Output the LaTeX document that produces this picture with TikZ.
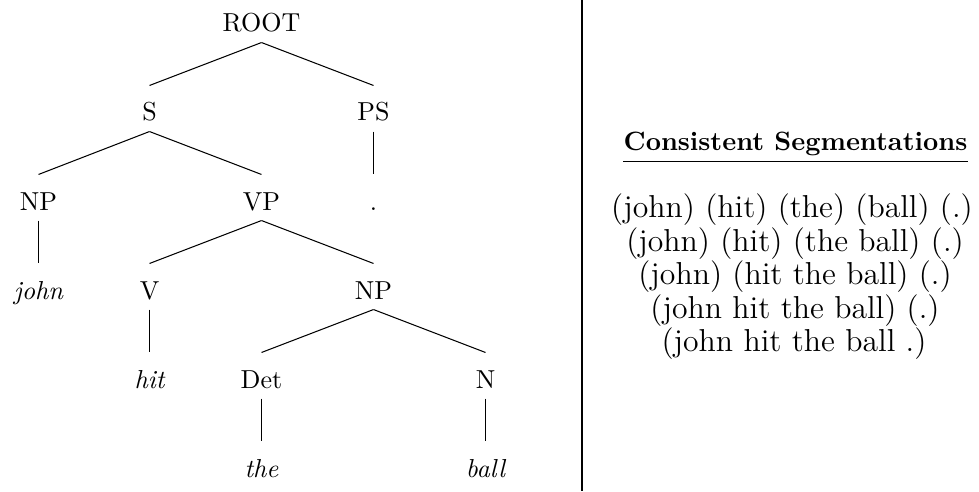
\documentclass[tikz,border=0pt]{standalone}
\begin{document}
\begin{tikzpicture}[
  x=0.3846pt, y=-0.3846pt,
  % tree labels: box reaches 35 units above and 10 units below the baseline,
  % so the branches start and stop just clear of the text
  tnode/.style={anchor=base, inner sep=0pt, text height=13.46pt, text depth=3.85pt,
                font=\fontsize{10}{12}\selectfont},
  leaf/.style={tnode, font=\fontsize{10}{12}\selectfont\itshape},
  branch/.style={line width=0.4pt},
  segrow/.style={anchor=base, inner sep=0pt, font=\fontsize{12.2}{14}\selectfont},
]
\useasboundingbox (0,0) rectangle (979,491);

% ---- parse tree ----
\node[tnode] (root) at (261.5,32)  {ROOT};
\node[tnode] (s)    at (149.5,121) {S};
\node[tnode] (ps)   at (373.5,121) {PS};
\node[tnode] (np)   at (38.5,210)  {NP};
\node[tnode] (vp)   at (261.5,210) {VP};
\node[tnode] (dot)  at (373.5,210) {.};
\node[leaf]  (john) at (38.5,299)  {john};
\node[tnode] (v)    at (149.5,299) {V};
\node[tnode] (npb)  at (373.5,299) {NP};
\node[leaf]  (hit)  at (149.5,388) {hit};
\node[tnode] (det)  at (261.5,388) {Det};
\node[tnode] (n)    at (485.5,388) {N};
\node[leaf]  (the)  at (261.5,477) {the};
\node[leaf]  (ball) at (485.5,477) {ball};

\draw[branch] (root.south) -- (s.north);
\draw[branch] (root.south) -- (ps.north);
\draw[branch] (s.south) -- (np.north);
\draw[branch] (s.south) -- (vp.north);
\draw[branch] (ps.south) -- (dot.north);
\draw[branch] (np.south) -- (john.north);
\draw[branch] (vp.south) -- (v.north);
\draw[branch] (vp.south) -- (npb.north);
\draw[branch] (v.south) -- (hit.north);
\draw[branch] (npb.south) -- (det.north);
\draw[branch] (npb.south) -- (n.north);
\draw[branch] (det.south) -- (the.north);
\draw[branch] (n.south) -- (ball.north);

% ---- separator ----
\coordinate (septop) at (581.7,0);
\coordinate (sepbot) at (581.7,491);
\draw[line width=0.77pt] (septop) -- (sepbot);

% ---- segmentations ----
\node[anchor=base, inner sep=0pt, text depth=3.85pt,
      font=\fontsize{10.2}{12}\selectfont\bfseries] (title) at (795.5,151)
      {Consistent Segmentations};
\draw[line width=0.4pt] (title.south west) -- (title.south east);

\node[segrow] (r1) at (792,218)   {(john) (hit) (the) (ball) (.)};
\node[segrow] (r2) at (795,251.3) {(john) (hit) (the ball) (.)};
\node[segrow] (r3) at (795,284.6) {(john) (hit the ball) (.)};
\node[segrow] (r4) at (795,318)   {(john hit the ball) (.)};
\node[segrow] (r5) at (794,351.3) {(john hit the ball .)};
\end{tikzpicture}
\end{document}
